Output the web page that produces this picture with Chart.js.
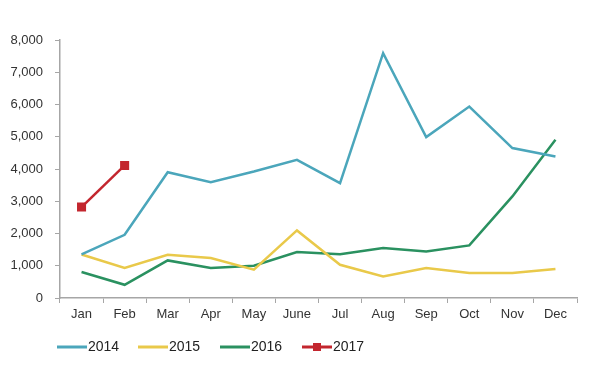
<!DOCTYPE html>
<html>
<head>
<meta charset="utf-8">
<script src="https://cdn.jsdelivr.net/npm/chart.js@4"></script>
<style>
html,body{margin:0;padding:0;background:#fff;}
#wrap{width:600px;height:385px;position:relative;}
</style>
</head>
<body>
<div id="wrap"><canvas id="c" width="600" height="385"></canvas></div>
<script>
const months = ['Jan','Feb','Mar','Apr','May','June','Jul','Aug','Sep','Oct','Nov','Dec'];
const y2014 = [1350,1960,3900,3590,3920,4285,3560,7590,4990,5935,4650,4390];
const y2015 = [1350,930,1340,1240,880,2095,1030,670,930,775,775,900];
const y2016 = [805,410,1165,930,1000,1425,1360,1550,1445,1630,3150,4905];
const y2017 = [2820,4110,null,null,null,null,null,null,null,null,null,null];
const yTicks = [0,1000,2000,3000,4000,5000,6000,7000,8000];

const colors = {'2014':'#4ba6bb','2015':'#e9c94a','2016':'#2a9160','2017':'#c3262e'};

const legendPlugin = {
  id:'customLegend',
  afterDraw(chart){
    const ctx = chart.ctx;
    const items = [
      {t:'2014',c:colors['2014'],x:57},
      {t:'2015',c:colors['2015'],x:138},
      {t:'2016',c:colors['2016'],x:220},
      {t:'2017',c:colors['2017'],x:302,m:true}
    ];
    const y = 347;
    ctx.save();
    items.forEach(it=>{
      ctx.strokeStyle = it.c;
      ctx.lineWidth = 3;
      ctx.beginPath();
      ctx.moveTo(it.x, y);
      ctx.lineTo(it.x+30, y);
      ctx.stroke();
      if(it.m){
        ctx.fillStyle = it.c;
        ctx.fillRect(it.x+11, y-4, 8, 8);
      }
      ctx.fillStyle = '#222';
      ctx.font = '14px "Liberation Sans", Arial, sans-serif';
      ctx.textBaseline = 'middle';
      ctx.fillText(it.t, it.x+31, y);
    });
    ctx.restore();
  }
};

new Chart(document.getElementById('c'), {
  type:'line',
  data:{
    labels: months,
    datasets:[
      {label:'2014', data:y2014, borderColor:colors['2014'], backgroundColor:colors['2014'], borderWidth:2.5, pointRadius:0, tension:0},
      {label:'2015', data:y2015, borderColor:colors['2015'], backgroundColor:colors['2015'], borderWidth:2.5, pointRadius:0, tension:0},
      {label:'2016', data:y2016, borderColor:colors['2016'], backgroundColor:colors['2016'], borderWidth:2.5, pointRadius:0, tension:0},
      {label:'2017', data:y2017, borderColor:colors['2017'], backgroundColor:colors['2017'], borderWidth:2.5, pointRadius:6.4, pointStyle:'rect', pointBorderWidth:0, tension:0, spanGaps:false}
    ]
  },
  options:{
    responsive:false,
    animation:false,
    layout:{padding:{left:0,right:23,top:40,bottom:57}},
    plugins:{legend:{display:false}, tooltip:{enabled:false}},
    scales:{
      x:{
        offset:true,
        grid:{offset:true, drawOnChartArea:false, tickLength:5, color:'#a6a6a6'},
        border:{color:'#a6a6a6', width:1.5},
        ticks:{color:'#333', font:{size:13, family:'"Liberation Sans", Arial, sans-serif'}, padding:4, maxRotation:0, autoSkip:false},
        afterFit(s){ s.height = 30; }
      },
      y:{
        min:0, max:8000,
        afterBuildTicks(s){ s.ticks = yTicks.map(v=>({value:v})); },
        grid:{drawOnChartArea:false, tickLength:5, color:'#a6a6a6'},
        border:{color:'#a6a6a6', width:1.5},
        ticks:{color:'#333', font:{size:13, family:'"Liberation Sans", Arial, sans-serif'}, padding:12,
          callback:(v)=>v.toLocaleString('en-US')},
        afterFit(s){ s.width = 60; }
      }
    }
  },
  plugins:[legendPlugin]
});
</script>
</body>
</html>
